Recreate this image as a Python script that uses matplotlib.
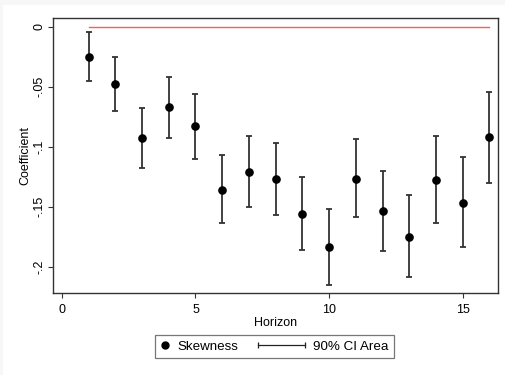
import matplotlib
matplotlib.use("Agg")
import matplotlib.pyplot as plt
from matplotlib.lines import Line2D
from matplotlib.legend_handler import HandlerBase
from matplotlib.patches import Rectangle

plt.rcParams['font.family'] = ['Liberation Sans', 'DejaVu Sans']

horizon = list(range(1, 17))
coef = [-0.025, -0.048, -0.093, -0.067, -0.083, -0.136, -0.121, -0.127,
        -0.156, -0.184, -0.127, -0.154, -0.175, -0.128, -0.147, -0.092]
ci_upper = [-0.004, -0.025, -0.068, -0.042, -0.056, -0.107, -0.091, -0.097,
            -0.125, -0.152, -0.094, -0.120, -0.140, -0.091, -0.109, -0.054]
ci_lower = [-0.045, -0.070, -0.118, -0.093, -0.110, -0.164, -0.150, -0.157,
            -0.186, -0.215, -0.159, -0.187, -0.209, -0.164, -0.184, -0.130]
xticks = [0, 5, 10, 15]
yticks = [0, -0.05, -0.1, -0.15, -0.2]
yticklabels = ['0', '-.05', '-.1', '-.15', '-.2']

fig = plt.figure(figsize=(5.06, 3.75), dpi=100)
fig.patch.set_facecolor('#f7f7f7')
fig.add_artist(Rectangle((3/506, 0), 1, 1 - 5/375, transform=fig.transFigure,
                         facecolor='white', edgecolor='none', zorder=-10))
ax = fig.add_axes([53/506, 1 - 293/375, 445/506, 275/375])

bar_color = '#333333'
ax.plot([horizon[0], horizon[-1]], [0, 0], color='#ff5a5a', lw=1.0, zorder=1)
ax.vlines(horizon, ci_lower, ci_upper, color=bar_color, lw=1.3, zorder=2)
ax.plot(horizon, ci_upper, ls='none', marker='_', ms=5, mew=1.3, color=bar_color, zorder=2)
ax.plot(horizon, ci_lower, ls='none', marker='_', ms=5, mew=1.3, color=bar_color, zorder=2)
ax.plot(horizon, coef, ls='none', marker='o', ms=5.2, color='black', zorder=3)

ax.set_xlim(-0.33, 16.32)
ax.set_ylim(-0.222, 0.0073)
ax.set_xticks(xticks)
ax.set_yticks(yticks)
ax.set_yticklabels(yticklabels, rotation=90, va='center')
ax.tick_params(axis='both', labelsize=9, length=3.6, width=0.8, color='#333333')
ax.tick_params(axis='x', pad=4)
ax.tick_params(axis='y', pad=1.5)
for s in ax.spines.values():
    s.set_color('#333333')
    s.set_linewidth(1.0)
ax.set_xlabel('Horizon', fontsize=9, labelpad=1)
ax.set_ylabel('Coefficient', fontsize=9, labelpad=1.5)


class CIHandler(HandlerBase):
    def create_artists(self, legend, orig_handle, xdescent, ydescent,
                       width, height, fontsize, trans):
        x0 = -xdescent - 27
        x1 = -xdescent + width
        y = -ydescent + height / 2
        ln = Line2D([x0, x1], [y, y], color='#222222', lw=0.9)
        cap = Line2D([x0, x1], [y, y], ls='none', marker='|', ms=4.5,
                     mew=0.9, color='#222222')
        for a in (ln, cap):
            a.set_transform(trans)
        return [ln, cap]


class CIKey:
    pass


dot = Line2D([], [], ls='none', marker='o', ms=5, color='black')
ci = CIKey()
leg = fig.legend([dot, ci], ['Skewness', '90% CI Area'],
                 handler_map={CIKey: CIHandler()},
                 loc='center', bbox_to_anchor=(274.5/506, 1 - 346.5/375),
                 ncol=2, fontsize=9.6, frameon=True, fancybox=False,
                 handlelength=0.7, handletextpad=0.6, columnspacing=4.3,
                 borderpad=0.38, borderaxespad=0)
leg.get_frame().set_edgecolor('#555555')
leg.get_frame().set_linewidth(0.9)

fig.savefig('out.png', dpi=100)
